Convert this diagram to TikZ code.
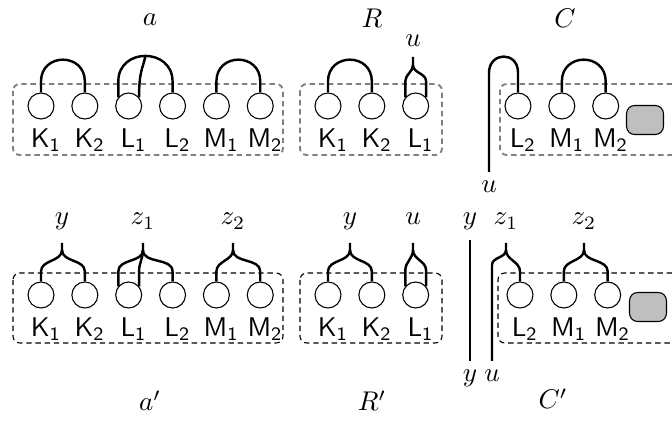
\documentclass[tikz,border=0pt]{standalone}
\usetikzlibrary{positioning, calc}
\tikzset{
  port/.style={draw, circle, minimum size=0.338cm, inner sep=0pt},
  lab/.style={label distance=0pt, xshift=1.8pt},
  strand/.style={line width=0.9pt},
  frame/.style={draw=gray, line width=0.7pt, dash pattern=on 2pt off 1.4pt, rounded corners=2.5pt},
  framep/.style={draw, dash pattern=on 2pt off 1.4pt, rounded corners=2.5pt},
  blob/.style={draw, fill=gray!50, rounded corners=3pt, minimum width=0.48cm, minimum height=0.377cm},
  tag/.style={anchor=base},
}

\begin{document}
\begin{tikzpicture}[x=0.013cm, y=0.013cm, node distance=0.218cm]
  \useasboundingbox (0,0) rectangle (672,423);

  % top row: a
  \draw[frame] (13,339) rectangle (283,268);
  \node[port, label={[lab]below:$\mathsf{K_1}$}] (ak1) at (41,317) {};
  \node[port, right=of ak1, label={[lab]below:$\mathsf{K_2}$}] (ak2) {};
  \node[port, right=of ak2, label={[lab]below:$\mathsf{L_1}$}] (al1) {};
  \node[port, right=of al1, label={[lab]below:$\mathsf{L_2}$}] (al2) {};
  \node[port, right=of al2, label={[lab]below:$\mathsf{M_1}$}] (am1) {};
  \node[port, right=of am1, label={[lab]below:$\mathsf{M_2}$}] (am2) {};
  \draw[strand] (ak1.north) -- ++(0,11) to[out=90, in=90, looseness=1.7] ($(ak2.north)+(0,11)$) -- (ak2.north);
  \draw[strand] (al1.140) -- ++(0,16) to[out=90, in=90, looseness=1.6] coordinate[pos=0.5] (atop) ($(al2.north)+(0,11)$) -- (al2.north);
  \draw[strand] (al1.40) .. controls +(0,26) and +(-3,-14) .. (atop);
  \draw[strand] (am1.north) -- ++(0,11) to[out=90, in=90, looseness=1.7] ($(am2.north)+(0,11)$) -- (am2.north);
  \node[tag] (alab) at (150,397) {$a$};

  % top row: R
  \draw[frame] (300,339) rectangle (442,268);
  \node[port, label={[lab]below:$\mathsf{K_1}$}] (rk1) at (328,317) {};
  \node[port, right=of rk1, label={[lab]below:$\mathsf{K_2}$}] (rk2) {};
  \node[port, right=of rk2, label={[lab]below:$\mathsf{L_1}$}] (rl1) {};
  \draw[strand] (rk1.north) -- ++(0,11) to[out=90, in=90, looseness=1.7] ($(rk2.north)+(0,11)$) -- (rk2.north);
  \coordinate (rucusp) at (413,358);
  \draw[strand] (rl1.140) -- ++(0,16) to[out=90, in=-90] (rucusp);
  \draw[strand] (rl1.40) -- ++(0,16) to[out=90, in=-90] (rucusp) -- ++(0,8);
  \node[tag] (rulab) at (413,376) {$u$};
  \node[tag] (rlab) at (372,396) {$R$};

  % top row: C
  \draw[frame] (672,339) -- (500,339) -- (500,268) -- (672,268);
  \node[port, label={[lab]below:$\mathsf{L_2}$}] (cl2) at (518,317) {};
  \node[port, right=of cl2, label={[lab]below:$\mathsf{M_1}$}] (cm1) {};
  \node[port, right=of cm1, label={[lab]below:$\mathsf{M_2}$}] (cm2) {};
  \node[blob] (cbox) at (645,303) {};
  \node[tag] (culab) at (489,230) {$u$};
  \draw[strand] (cl2.north) -- ++(0,20) to[out=90, in=90, looseness=1.9] (culab |- 0,350) -- (culab);
  \draw[strand] (cm1.north) -- ++(0,11) to[out=90, in=90, looseness=1.7] ($(cm2.north)+(0,11)$) -- (cm2.north);
  \node[tag] (clab) at (565,396) {$C$};

  % bottom row: a'
  \draw[framep] (13,150) rectangle (283,80);
  \node[port, label={[lab]below:$\mathsf{K_1}$}] (apk1) at (41,128) {};
  \node[port, right=of apk1, label={[lab]below:$\mathsf{K_2}$}] (apk2) {};
  \node[port, right=of apk2, label={[lab]below:$\mathsf{L_1}$}] (apl1) {};
  \node[port, right=of apl1, label={[lab]below:$\mathsf{L_2}$}] (apl2) {};
  \node[port, right=of apl2, label={[lab]below:$\mathsf{M_1}$}] (apm1) {};
  \node[port, right=of apm1, label={[lab]below:$\mathsf{M_2}$}] (apm2) {};
  \coordinate (apycusp) at (62,173);
  \coordinate (apzacusp) at (143,173);
  \coordinate (apzbcusp) at (233,173);
  \draw[strand] (apk1.north) -- ++(0,10) to[out=90, in=-90] (apycusp);
  \draw[strand] (apk2.north) -- ++(0,10) to[out=90, in=-90] (apycusp) -- ++(0,7);
  \draw[strand] (apl1.140) -- ++(0,15) to[out=90, in=-90] (apzacusp);
  \draw[strand] (apl1.40) -- ++(0,15) to[out=90, in=-90] (apzacusp);
  \draw[strand] (apl2.north) -- ++(0,10) to[out=90, in=-90] (apzacusp) -- ++(0,7);
  \draw[strand] (apm1.north) -- ++(0,10) to[out=90, in=-90] (apzbcusp);
  \draw[strand] (apm2.north) -- ++(0,10) to[out=90, in=-90] (apzbcusp) -- ++(0,7);
  \node[tag] (apylab) at (62,198) {$y$};
  \node[tag] (apzalab) at (143,198) {$z_1$};
  \node[tag] (apzblab) at (233,198) {$z_2$};
  \node[tag] (aplab) at (150,12) {$a'$};

  % bottom row: R'
  \draw[framep] (300,150) rectangle (442,80);
  \node[port, label={[lab]below:$\mathsf{K_1}$}] (rpk1) at (328,128) {};
  \node[port, right=of rpk1, label={[lab]below:$\mathsf{K_2}$}] (rpk2) {};
  \node[port, right=of rpk2, label={[lab]below:$\mathsf{L_1}$}] (rpl1) {};
  \coordinate (rpycusp) at (350,173);
  \coordinate (rpucusp) at (413,173);
  \draw[strand] (rpk1.north) -- ++(0,10) to[out=90, in=-90] (rpycusp);
  \draw[strand] (rpk2.north) -- ++(0,10) to[out=90, in=-90] (rpycusp) -- ++(0,7);
  \draw[strand] (rpl1.140) -- ++(0,16) to[out=90, in=-90] (rpucusp);
  \draw[strand] (rpl1.40) -- ++(0,16) to[out=90, in=-90] (rpucusp) -- ++(0,7);
  \node[tag] (rpylab) at (350,198) {$y$};
  \node[tag] (rpulab) at (413,198) {$u$};
  \node[tag] (rplab) at (372,12) {$R'$};

  % bottom row: C'
  \node[tag] (ytlab) at (470,198) {$y$};
  \node[tag] (yblab) at (470,41) {$y$};
  \draw[strand] (ytlab) -- (yblab);
  \draw[framep] (672,150) -- (498,150) -- (498,80) -- (672,80);
  \node[port, label={[lab]below:$\mathsf{L_2}$}] (cpl2) at (520,128) {};
  \node[port, right=of cpl2, label={[lab]below:$\mathsf{M_1}$}] (cpm1) {};
  \node[port, right=of cpm1, label={[lab]below:$\mathsf{M_2}$}] (cpm2) {};
  \node[blob] (cpbox) at (648,116) {};
  \coordinate (cpzacusp) at (506,173);
  \coordinate (cpzbcusp) at (584,173);
  \node[tag] (cpulab) at (492,41) {$u$};
  \draw[strand] (cpulab) -- (cpulab |- 0,158) to[out=90, in=-90] (cpzacusp);
  \draw[strand] (cpl2.north) -- ++(0,10) to[out=90, in=-90] (cpzacusp) -- ++(0,7);
  \draw[strand] (cpm1.north) -- ++(0,10) to[out=90, in=-90] (cpzbcusp);
  \draw[strand] (cpm2.north) -- ++(0,10) to[out=90, in=-90] (cpzbcusp) -- ++(0,7);
  \node[tag] (cpzalab) at (506,198) {$z_1$};
  \node[tag] (cpzblab) at (584,198) {$z_2$};
  \node[tag] (cplab) at (553,14) {$C'$};
\end{tikzpicture}
\end{document}
